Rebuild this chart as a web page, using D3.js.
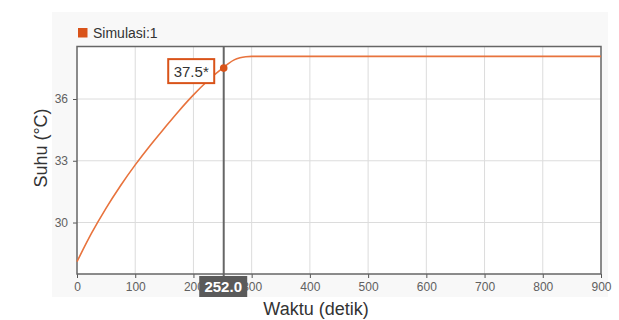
<!DOCTYPE html>
<html>
<head>
<meta charset="utf-8">
<script src="https://cdn.jsdelivr.net/npm/d3@7"></script>
<style>
  html, body { margin: 0; padding: 0; background: #fff; }
  svg { display: block; font-family: "Liberation Sans", Arial, sans-serif; }
</style>
</head>
<body>
<svg id="chart" width="619" height="320"></svg>
<script>
// Simulated temperature response (Simulasi:1)
const timeSec = [0, 25, 50, 75, 100, 125, 150, 175, 200, 225, 250, 260, 270, 280, 290, 300, 400, 500, 600, 700, 800, 900];
const tempC   = [28.1, 29.48, 30.70, 31.80, 32.80, 33.72, 34.58, 35.42, 36.2, 36.9, 37.5, 37.72, 37.9, 38.0, 38.05, 38.07, 38.07, 38.07, 38.07, 38.07, 38.07, 38.07];
const xTicks = [0, 100, 200, 300, 400, 500, 600, 700, 800, 900];
const yTicks = [30, 33, 36];
const seriesName = "Simulasi:1";
const cursorTime = 252.0;
const cursorTemp = 37.5;

const svg = d3.select("#chart");
const W = 619, H = 320;
const margin = { left: 77, right: 18, top: 46.5, bottom: 46 };
const plotW = W - margin.left - margin.right;
const plotH = H - margin.top - margin.bottom;

const x = d3.scaleLinear().domain([0, 900]).range([margin.left, margin.left + plotW]);
const y = d3.scaleLinear().domain([27.5, 38.55]).range([margin.top + plotH, margin.top]);

// Panel background
svg.append("rect").attr("x", 52).attr("y", 12).attr("width", 556).attr("height", 285)
  .attr("fill", "#f8f8f8");

// Plot area
svg.append("rect").attr("x", margin.left).attr("y", margin.top)
  .attr("width", plotW).attr("height", plotH).attr("fill", "#fff");

// Grid
svg.append("g").selectAll("line").data(xTicks.slice(1, -1)).join("line")
  .attr("x1", d => x(d)).attr("x2", d => x(d))
  .attr("y1", margin.top).attr("y2", margin.top + plotH)
  .attr("stroke", "#dcdcdc").attr("stroke-width", 1);
svg.append("g").selectAll("line").data(yTicks).join("line")
  .attr("x1", margin.left).attr("x2", margin.left + plotW)
  .attr("y1", d => y(d)).attr("y2", d => y(d))
  .attr("stroke", "#dcdcdc").attr("stroke-width", 1);

// Axes
const xAxis = svg.append("g")
  .attr("transform", `translate(0,${margin.top + plotH})`)
  .call(d3.axisBottom(x).tickValues(xTicks).tickSize(4).tickPadding(4).tickFormat(d3.format("d")));
const yAxis = svg.append("g")
  .attr("transform", `translate(${margin.left},0)`)
  .call(d3.axisLeft(y).tickValues(yTicks).tickSize(4).tickPadding(5).tickFormat(d3.format("d")));
[xAxis, yAxis].forEach(g => {
  g.select(".domain").remove();
  g.selectAll(".tick line").attr("stroke", "#555");
  g.selectAll(".tick text").attr("fill", "#606060").attr("font-size", 12)
    .attr("font-family", "Liberation Sans, Arial, sans-serif");
});

// Frame
svg.append("rect").attr("x", margin.left).attr("y", margin.top)
  .attr("width", plotW).attr("height", plotH)
  .attr("fill", "none").attr("stroke", "#666").attr("stroke-width", 1.5);

// Series line
const line = d3.line().x((d, i) => x(timeSec[i])).y(d => y(d)).curve(d3.curveMonotoneX);
svg.append("path").datum(tempC)
  .attr("d", line).attr("fill", "none")
  .attr("stroke", "#e8733d").attr("stroke-width", 1.6);

// Cursor line
svg.append("line")
  .attr("x1", x(cursorTime)).attr("x2", x(cursorTime))
  .attr("y1", margin.top).attr("y2", margin.top + plotH + 2)
  .attr("stroke", "#666").attr("stroke-width", 2);

// Cursor marker and value label
svg.append("circle").attr("cx", x(cursorTime)).attr("cy", y(cursorTemp)).attr("r", 3.8)
  .attr("fill", "#d95319");
const lblW = 46, lblH = 24;
const lblX = x(cursorTime) - 55.5, lblY = y(cursorTemp) - 9;
svg.append("rect").attr("x", lblX).attr("y", lblY).attr("width", lblW).attr("height", lblH)
  .attr("fill", "#fff").attr("stroke", "#d95319").attr("stroke-width", 2);
svg.append("text").attr("x", lblX + lblW / 2).attr("y", lblY + 17.5)
  .attr("text-anchor", "middle").attr("font-size", 15).attr("fill", "#333")
  .text(cursorTemp.toFixed(1) + "*");

// Cursor time label
const tW = 48, tH = 21;
const tX = x(cursorTime) - 24.5, tY = margin.top + plotH + 2;
svg.append("rect").attr("x", tX).attr("y", tY).attr("width", tW).attr("height", tH)
  .attr("fill", "#5a5a5a");
svg.append("text").attr("x", tX + tW / 2).attr("y", tY + 16)
  .attr("text-anchor", "middle").attr("font-size", 15).attr("font-weight", "bold")
  .attr("fill", "#fff").text(cursorTime.toFixed(1));

// Axis titles
svg.append("text").attr("x", 316).attr("y", 314.5)
  .attr("text-anchor", "middle").attr("font-size", 18).attr("fill", "#333")
  .text("Waktu (detik)");
svg.append("text").attr("transform", "translate(46.5,148) rotate(-90)")
  .attr("text-anchor", "middle").attr("font-size", 18).attr("fill", "#333")
  .text("Suhu (°C)");

// Legend
svg.append("rect").attr("x", 78).attr("y", 28).attr("width", 9.5).attr("height", 9.5)
  .attr("fill", "#d95319");
svg.append("text").attr("x", 93).attr("y", 38).attr("font-size", 14).attr("fill", "#333")
  .text(seriesName);
</script>
</body>
</html>
